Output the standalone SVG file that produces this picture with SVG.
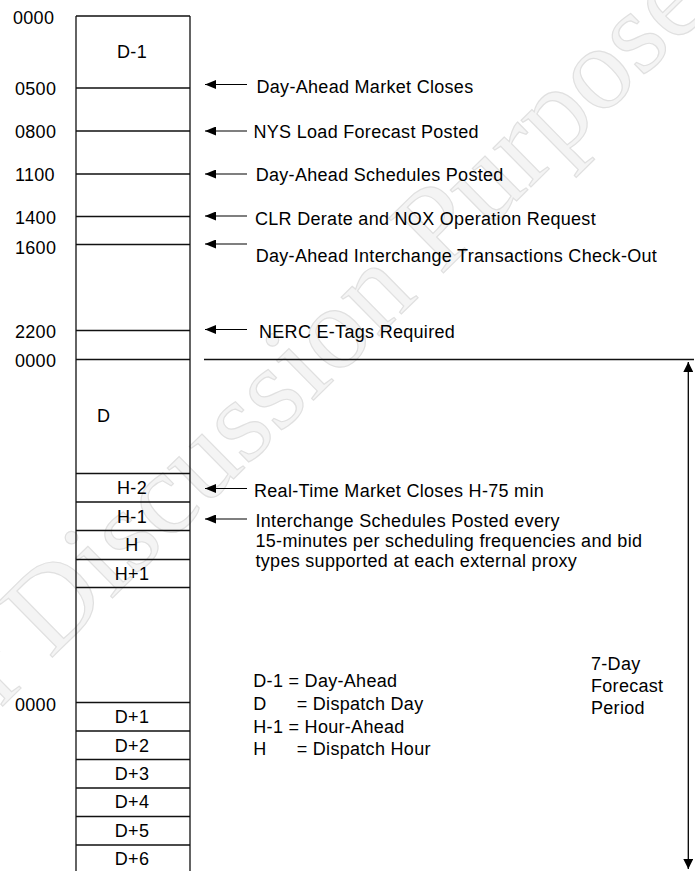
<svg xmlns="http://www.w3.org/2000/svg" width="695" height="871" viewBox="0 0 695 871">
<defs>
<style>
text{font-family:"Liberation Sans",Arial,sans-serif;font-size:18px;fill:#000;letter-spacing:0.3px}
.c{text-anchor:middle}
.ln{stroke:#111;stroke-width:1.3;fill:none}
.ar{stroke:#000;stroke-width:1.2;fill:none;marker-end:url(#ah)}
.wm{font-family:"Liberation Serif","Times New Roman",serif;font-size:118px;fill:#f4f4f4;stroke:#e0e0e0;stroke-width:1.2;letter-spacing:0}
</style>
<marker id="ah" markerWidth="11" markerHeight="9" refX="11" refY="4.5" orient="auto-start-reverse" markerUnits="userSpaceOnUse" viewBox="0 0 11 9">
<path d="M0,0 L11,4.5 L0,9 Z" fill="#000"/>
</marker>
<marker id="av" markerWidth="10" markerHeight="10" refX="10" refY="5" orient="auto-start-reverse" markerUnits="userSpaceOnUse" viewBox="0 0 10 10">
<path d="M0,0 L10,5 L0,10 Z" fill="#000"/>
</marker>
</defs>
<rect width="695" height="871" fill="#fff"/>
<text class="wm" transform="translate(-88,795) rotate(-44.5)">For Discussion Purposes</text>

<g id="timeline">
<path class="ln" d="M76,16 H190 M76,16 V871 M190,16 V871"/>
<path class="ln" d="M76,88 H190 M76,131 H190 M76,174 H190 M76,216.5 H190 M76,244.5 H190 M76,330.5 H190 M76,359.5 H190 M76,473.5 H190 M76,502 H190 M76,530.5 H190 M76,559.5 H190 M76,587.5 H190 M76,702.5 H190 M76,731 H190 M76,759.5 H190 M76,788 H190 M76,816.5 H190 M76,845 H190"/>
</g>

<g id="times">
<text x="13" y="24">0000</text>
<text x="15" y="95">0500</text>
<text x="15" y="138">0800</text>
<text x="15" y="180.5">1100</text>
<text x="15" y="224">1400</text>
<text x="15" y="253.5">1600</text>
<text x="15" y="338">2200</text>
<text x="15" y="367">0000</text>
<text x="15" y="710.5">0000</text>
</g>

<g id="periods">
<text class="c" x="132" y="58.3">D-1</text>
<text x="97" y="422">D</text>
<text class="c" x="132" y="494">H-2</text>
<text class="c" x="132" y="522.7">H-1</text>
<text class="c" x="132" y="551">H</text>
<text class="c" x="132" y="580">H+1</text>
<text class="c" x="132" y="723.3">D+1</text>
<text class="c" x="132" y="751.7">D+2</text>
<text class="c" x="132" y="780">D+3</text>
<text class="c" x="132" y="808.3">D+4</text>
<text class="c" x="132" y="836.7">D+5</text>
<text class="c" x="132" y="865">D+6</text>
</g>

<g id="connectors">
<line class="ar" x1="247" y1="84.5" x2="205" y2="84.5"/>
<line class="ar" x1="247" y1="131" x2="205" y2="131"/>
<line class="ar" x1="247" y1="174" x2="205" y2="174"/>
<line class="ar" x1="247" y1="216" x2="205" y2="216"/>
<line class="ar" x1="247" y1="244" x2="205" y2="244"/>
<line class="ar" x1="247" y1="329.5" x2="205" y2="329.5"/>
<line class="ar" x1="247" y1="488.5" x2="205" y2="488.5"/>
<line class="ar" x1="247" y1="519" x2="205" y2="519"/>
<line x1="204" y1="359.5" x2="694" y2="359.5" stroke="#111" stroke-width="1.3"/>
<line x1="688.3" y1="362" x2="688.3" y2="869" stroke="#000" stroke-width="1.3" marker-start="url(#av)" marker-end="url(#av)"/>
</g>

<g id="events">
<text x="256.5" y="92.7">Day-Ahead Market Closes</text>
<text x="253.5" y="138.3">NYS Load Forecast Posted</text>
<text x="255.7" y="181">Day-Ahead Schedules Posted</text>
<text x="255" y="225">CLR Derate and NOX Operation Request</text>
<text x="255.7" y="262">Day-Ahead Interchange Transactions Check-Out</text>
<text x="259" y="338.3">NERC E-Tags Required</text>
<text x="254" y="496.7">Real-Time Market Closes H-75 min</text>
<text x="255.5" y="526.5">Interchange Schedules Posted every</text>
<text x="255.5" y="546.5">15-minutes per scheduling frequencies and bid</text>
<text x="255.5" y="566.5">types supported at each external proxy</text>
</g>

<g id="legend">
<text x="253.3" y="687.3">D-1 = Day-Ahead</text>
<text x="253.3" y="710">D<tspan x="296.7">= Dispatch Day</tspan></text>
<text x="253.3" y="732.7">H-1 = Hour-Ahead</text>
<text x="253.3" y="754.7">H<tspan x="296.7">= Dispatch Hour</tspan></text>
</g>

<g id="forecast">
<text x="591" y="670">7-Day</text>
<text x="591" y="691.7">Forecast</text>
<text x="591" y="714.3">Period</text>
</g>
</svg>
